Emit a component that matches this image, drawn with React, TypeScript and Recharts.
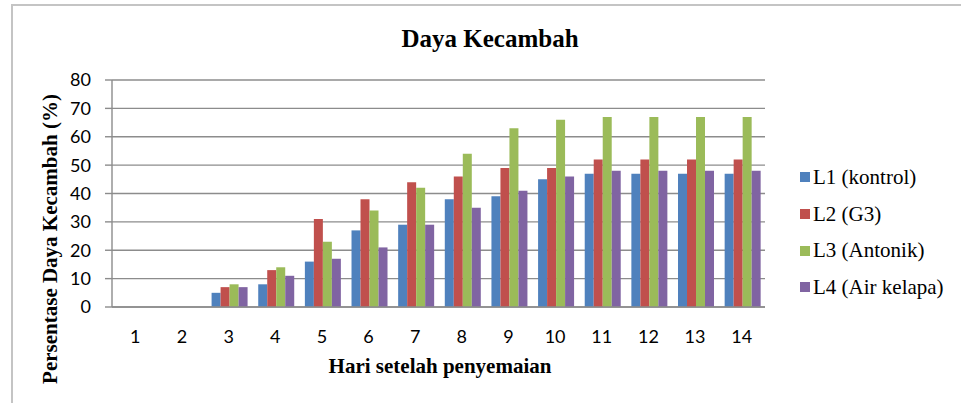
import { Bar, BarChart, CartesianGrid, XAxis, YAxis } from "recharts";

// hari setelah penyemaian
const days = ["1", "2", "3", "4", "5", "6", "7", "8", "9", "10", "11", "12", "13", "14"];

const l1Kontrol = [0, 0, 5, 8, 16, 27, 29, 38, 39, 45, 47, 47, 47, 47];
const l2G3 = [0, 0, 7, 13, 31, 38, 44, 46, 49, 49, 52, 52, 52, 52];
const l3Antonik = [0, 0, 8, 14, 23, 34, 42, 54, 63, 66, 67, 67, 67, 67];
const l4AirKelapa = [0, 0, 7, 11, 17, 21, 29, 35, 41, 46, 48, 48, 48, 48];

const yTicks = [0, 10, 20, 30, 40, 50, 60, 70, 80];

const seriesNames = ["L1 (kontrol)", "L2 (G3)", "L3 (Antonik)", "L4 (Air kelapa)"];
const seriesColors = ["#4F81BD", "#C0504D", "#9BBB59", "#8064A2"];

const data = days.map((d, i) => ({
    day: d,
    l1: l1Kontrol[i],
    l2: l2G3[i],
    l3: l3Antonik[i],
    l4: l4AirKelapa[i],
}));

const serif = "'Liberation Serif', 'Times New Roman', serif";
const sans = "Lato, 'Open Sans', sans-serif";
const gridColor = "#8c8c8c";

function LegendBox() {
    return (
        <div style={{ position: "absolute", left: 800, top: 159, fontFamily: serif, fontSize: 21, color: "#000" }}>
            {seriesNames.map((name, i) => (
                <div key={name} style={{ display: "flex", alignItems: "center", height: 36.7, whiteSpace: "nowrap" }}>
                    <span style={{ width: 10, height: 10, background: seriesColors[i], marginRight: 3 }} />
                    <span>{name}</span>
                </div>
            ))}
        </div>
    );
}

export default function App() {
    const keys = ["l1", "l2", "l3", "l4"];
    return (
        <div style={{ position: "absolute", left: 0, top: 0, width: 961, height: 403, overflow: "hidden", background: "#fff" }}>
            <div style={{ position: "absolute", left: 11, top: 4, width: 970, height: 420, border: "2px solid #c4c4c4" }} />
            <BarChart
                width={961}
                height={403}
                data={data}
                margin={{ top: 80, right: 196, bottom: 0, left: 0 }}
                barCategoryGap="13.5%"
                barGap={0}
                style={{ position: "absolute", left: 0, top: 0 }}
            >
                <CartesianGrid vertical={false} stroke={gridColor} strokeWidth={1.4} />
                <XAxis
                    dataKey="day"
                    height={96}
                    tickLine={false}
                    axisLine={{ stroke: gridColor, strokeWidth: 1.4 }}
                    tickMargin={17}
                    tick={{ fill: "#000", fontFamily: sans, fontSize: 18 }}
                />
                <YAxis
                    width={112}
                    domain={[0, 80]}
                    ticks={yTicks}
                    interval={0}
                    tickSize={7}
                    tickMargin={14}
                    tickLine={{ stroke: gridColor, strokeWidth: 1.4 }}
                    axisLine={{ stroke: gridColor, strokeWidth: 1.4 }}
                    tick={{ fill: "#000", fontFamily: sans, fontSize: 18 }}
                />
                {keys.map((k, i) => (
                    <Bar key={k} dataKey={k} name={seriesNames[i]} fill={seriesColors[i]} isAnimationActive={false} />
                ))}
            </BarChart>
            <div style={{ position: "absolute", left: 490, top: 25, transform: "translateX(-50%)", fontFamily: serif, fontWeight: "bold", fontSize: 25, whiteSpace: "nowrap" }}>
                Daya Kecambah
            </div>
            <div style={{ position: "absolute", left: 440, top: 354, transform: "translateX(-50%)", fontFamily: serif, fontWeight: "bold", fontSize: 21, whiteSpace: "nowrap" }}>
                Hari setelah penyemaian
            </div>
            <div style={{ position: "absolute", left: 50, top: 239, transform: "translate(-50%, -50%) rotate(-90deg)", fontFamily: serif, fontWeight: "bold", fontSize: 21, whiteSpace: "nowrap" }}>
                Persentase Daya Kecambah (%)
            </div>
            <LegendBox />
        </div>
    );
}
